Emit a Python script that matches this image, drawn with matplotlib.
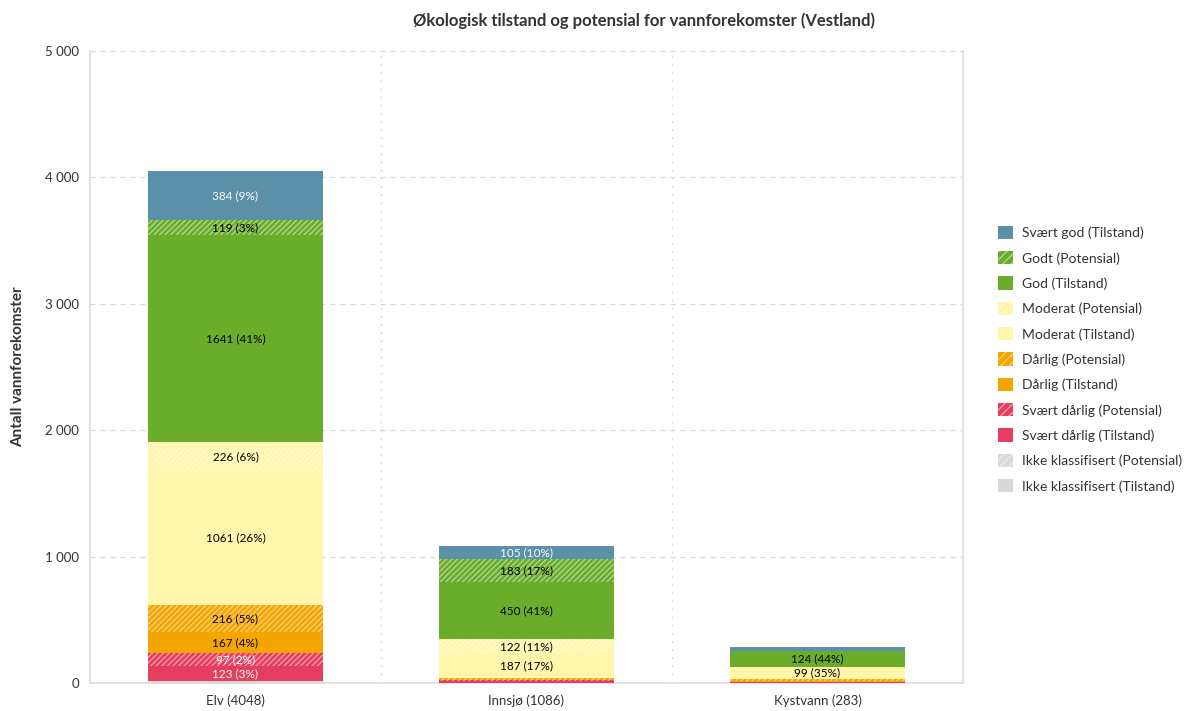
import matplotlib
matplotlib.use("Agg")
import matplotlib.pyplot as plt
import numpy as np
from matplotlib.patches import Patch

plt.rcParams['font.family'] = ['Lato', 'DejaVu Sans']
plt.rcParams['hatch.linewidth'] = 0.9

categories = ['Elv (4048)', 'Innsjø (1086)', 'Kystvann (283)']
totals = [4048, 1086, 283]

# counts per class, one value per water body type (bottom to top in the stack)
ikke_klass_tilstand = [14, 0, 0]
ikke_klass_potensial = [0, 0, 0]
svaert_darlig_tilstand = [123, 15, 10]
svaert_darlig_potensial = [97, 6, 0]
darlig_tilstand = [167, 6, 8]
darlig_potensial = [216, 12, 10]
moderat_tilstand = [1061, 187, 99]
moderat_potensial = [226, 122, 0]
god_tilstand = [1641, 450, 124]
godt_potensial = [119, 183, 0]
svaert_god_tilstand = [384, 105, 32]

series = [
    ('Ikke klassifisert (Tilstand)', ikke_klass_tilstand, '#d9d9d9', False, 'black'),
    ('Ikke klassifisert (Potensial)', ikke_klass_potensial, '#d9d9d9', True, 'black'),
    ('Svært dårlig (Tilstand)', svaert_darlig_tilstand, '#e63e5e', False, 'white'),
    ('Svært dårlig (Potensial)', svaert_darlig_potensial, '#e63e5e', True, 'white'),
    ('Dårlig (Tilstand)', darlig_tilstand, '#f5a500', False, 'black'),
    ('Dårlig (Potensial)', darlig_potensial, '#f5a500', True, 'black'),
    ('Moderat (Tilstand)', moderat_tilstand, '#fff5ab', False, 'black'),
    ('Moderat (Potensial)', moderat_potensial, '#fff5ab', True, 'black'),
    ('God (Tilstand)', god_tilstand, '#6aad2b', False, 'black'),
    ('Godt (Potensial)', godt_potensial, '#6aad2b', True, 'black'),
    ('Svært god (Tilstand)', svaert_god_tilstand, '#5a90a8', False, 'white'),
]

HATCH = '//////'
HATCH_EDGE = (1, 1, 1, 0.5)

fig = plt.figure(figsize=(11.93, 7.11), dpi=100)
ax = fig.add_axes([0.0754, 0.0394, 0.7318, 0.8888])

x = np.arange(len(categories))
width = 0.6
bottom = np.zeros(len(categories))
handles = []
for name, vals, color, hatched, txt_color in series:
    vals = np.array(vals, dtype=float)
    ax.bar(x, vals, width, bottom=bottom, color=color,
           edgecolor=HATCH_EDGE if hatched else color,
           hatch=HATCH if hatched else None, linewidth=0, zorder=3)
    for i, v in enumerate(vals):
        if v >= 90:
            pct = v / totals[i] * 100
            ax.text(x[i], bottom[i] + v / 2, f'{int(v)} ({pct:.0f}%)',
                    ha='center', va='center', fontsize=8.5, color=txt_color, zorder=4)
    bottom += vals
    handles.append(Patch(facecolor=color, edgecolor=HATCH_EDGE if hatched else color,
                         hatch='////' if hatched else None, linewidth=0, label=name))

ax.set_xlim(-0.5, 2.5)
ax.set_ylim(0, 5000)
ax.set_xticks(x)
ax.set_xticklabels(categories, fontsize=9.5, color='#333333')
ax.set_yticks(np.arange(0, 5001, 1000))
ax.set_yticklabels(['0', '1 000', '2 000', '3 000', '4 000', '5 000'], fontsize=9.5, color='#333333')
ax.tick_params(length=0, pad=8)

# grid: dashed horizontal lines, dotted separators between categories
ax.grid(axis='y', color='#d8d8d8', linestyle=(0, (4, 4)), linewidth=0.9, zorder=0)
for sep in [0.5, 1.5]:
    ax.axvline(sep, color='#d8d8d8', linestyle=(0, (1.5, 5)), linewidth=0.9, zorder=0)

for side in ['left', 'right', 'bottom']:
    ax.spines[side].set_color('#dddddd')
    ax.spines[side].set_linewidth(1.2)
ax.spines['top'].set_visible(False)

ax.set_ylabel('Antall vannforekomster', fontsize=11, fontweight='bold', color='#333333', labelpad=14)
fig.text(0.54, 0.971, 'Økologisk tilstand og potensial for vannforekomster (Vestland)',
         ha='center', va='center', fontsize=12, fontweight='bold', color='#333333')

fig.legend(handles=handles[::-1], loc='upper left', bbox_to_anchor=(0.826, 0.7),
           frameon=False, fontsize=10, handlelength=1.1, handleheight=1.1,
           labelspacing=0.86, handletextpad=0.6, labelcolor='#333333')

fig.savefig('out.png', dpi=100)
